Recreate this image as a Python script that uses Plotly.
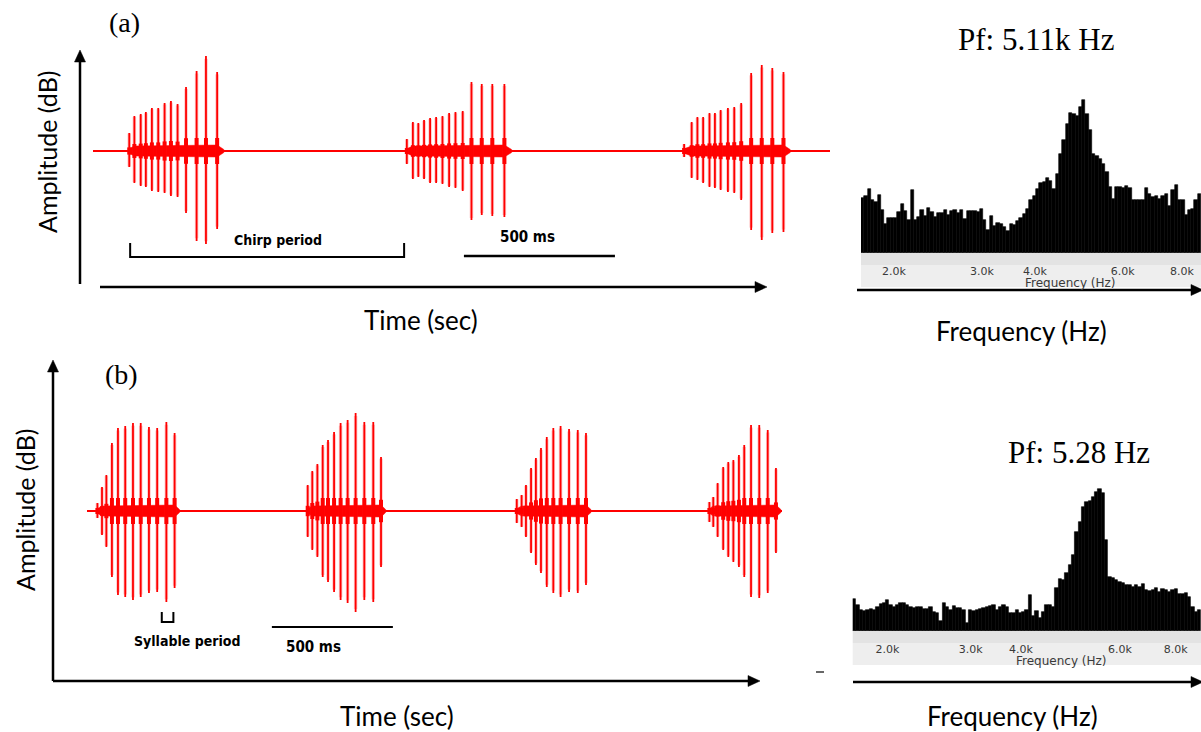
import plotly.graph_objects as go
import numpy as np

W, H = 1201, 732

# ---------------- DATA ----------------
# Panel (a) chirp pulses: time (ms), positive / negative peak amplitude (relative units)
A_T = [[120, 137, 158, 175, 195, 216, 237, 258, 280, 308, 343, 374, 411],
       [1039, 1059, 1077, 1096, 1116, 1136, 1157, 1179, 1200, 1224, 1253, 1287, 1322, 1362],
       [1957, 1982, 2001, 2020, 2041, 2059, 2078, 2102, 2123, 2146, 2179, 2214, 2249, 2286]]
A_UP = [[18, 35, 37, 39, 43, 43, 48, 50, 47, 64, 80, 95, 79],
        [12, 29, 28, 31, 33, 34, 35, 38, 39, 40, 69, 67, 67, 67],
        [7, 29, 34, 34, 38, 38, 41, 43, 44, 48, 78, 86, 83, 79]]
A_DN = [[16, 32, 35, 36, 40, 41, 42, 45, 46, 62, 90, 93, 78],
        [13, 28, 26, 28, 32, 32, 33, 36, 37, 40, 69, 64, 65, 66],
        [6, 27, 29, 32, 36, 37, 39, 41, 42, 49, 79, 89, 82, 81]]
A_TIME_SPAN = [0, 2440]
A_CHIRP_PERIOD = [123, 1030]
A_SCALE_BAR = [1228, 1728]

# Panel (b) chirp pulses
B_T = [[43, 62, 80, 103, 128, 158, 190, 222, 256, 290, 328, 362],
       [912, 931, 952, 974, 996, 1021, 1048, 1077, 1110, 1146, 1183, 1215],
       [1776, 1796, 1814, 1835, 1855, 1876, 1900, 1927, 1957, 1992, 2028, 2062],
       [2572, 2588, 2606, 2629, 2650, 2671, 2694, 2716, 2744, 2778, 2813, 2847]]
B_UP = [[8, 24, 36, 68, 83, 85, 88, 88, 84, 83, 89, 78],
        [26, 40, 47, 66, 71, 79, 88, 91, 98, 89, 89, 54],
        [12, 16, 26, 43, 53, 63, 74, 83, 85, 82, 81, 78],
        [9, 14, 28, 44, 49, 51, 56, 66, 86, 86, 81, 43]]
B_DN = [[7, 24, 36, 66, 84, 86, 89, 86, 82, 81, 91, 77],
        [26, 39, 46, 66, 71, 81, 89, 92, 101, 89, 91, 56],
        [12, 16, 26, 42, 54, 62, 76, 82, 86, 81, 82, 74],
        [11, 16, 26, 39, 46, 51, 56, 66, 86, 87, 82, 42]]
B_TIME_SPAN = [0, 2872]
B_SYLLABLE_PERIOD = [309, 357]
B_SCALE_BAR = [764, 1264]

# Power spectra (relative power per frequency bin)
SPEC_A = [55, 57, 64, 53, 51, 58, 43, 29, 35, 35, 35, 41, 49, 42, 33, 63, 33, 36, 43, 37,
          45, 41, 36, 40, 40, 43, 38, 42, 43, 40, 43, 34, 42, 42, 42, 41, 44, 33, 23, 37,
          27, 30, 29, 26, 22, 29, 28, 32, 35, 39, 44,
          53, 57, 64, 70, 71, 75, 72, 64, 79, 99, 113, 129, 140, 139, 137, 146, 153, 139, 123, 99,
          97, 94, 89, 81, 66, 54, 66, 66, 65, 67, 65, 53, 53, 53, 53, 65, 59, 56, 57, 54,
          57, 59, 47, 63, 68, 53, 53, 38, 43, 44, 53, 59]
SPEC_B = [32, 26, 21, 20, 21, 22, 21, 24, 27, 28, 31, 26, 24, 26, 28, 28, 26, 24, 23, 24,
          24, 22, 22, 24, 19, 18, 10, 28, 24, 21, 25, 23, 23, 21, 8, 21, 20, 21, 22, 23,
          24, 25, 26, 21, 24, 26, 24, 18, 18, 21, 18, 19, 21, 36, 15, 20, 13, 19, 26, 26,
          24, 43, 52, 51, 58, 66, 76, 99, 109, 124, 129, 130, 134, 139, 142, 138, 91, 54, 53, 51,
          49, 48, 46, 46, 44, 46, 44, 47, 41, 40, 41, 43, 39, 42, 41, 39, 41, 42, 37, 37,
          38, 34, 24, 19, 21]
FREQ_TICK_TEXT = ["2.0k", "3.0k", "4.0k", "6.0k", "8.0k"]
SPEC_A_TICK_BIN = [9.5, 36.1, 52.2, 78.8, 96.7]
SPEC_B_TICK_BIN = [10.0, 35.1, 50.2, 80.1, 96.9]

# ---------------- HELPERS ----------------
def fx(px):
    return px / W

def fy(py):
    return 1 - py / H

RED = "#ff0000"
SANS = "Lato, Open Sans, sans-serif"
SERIF = "Liberation Serif, Times New Roman, serif"
NARROW = "Liberation Sans Narrow, DejaVu Sans Condensed, Arial Narrow, sans-serif"
SMALL = "DejaVu Sans, Verdana, sans-serif"

fig = go.Figure()


def add_wave(ts, ups, dns, span, xa, ya):
    # baseline
    fig.add_trace(go.Scatter(x=span, y=[0, 0], mode="lines", line=dict(color=RED, width=2),
                             xaxis=xa, yaxis=ya, hoverinfo="skip", showlegend=False))
    hx, hy, sx, sy, cx, cy = [], [], [], [], [], []
    for t, u, d in zip(ts, ups, dns):
        # envelope band around baseline for the burst
        t0, t1 = t[0], t[-1]
        tail = (t[-1] - t[-2]) * 0.6
        bx = [t0 - 3, t[1], t1, t1 + tail, t1 + tail, t1, t[1], t0 - 3]
        by = [-2, -5, -6, -1.5, 1.5, 6, 5, 2]
        fig.add_trace(go.Scatter(x=bx, y=by, fill="toself", mode="lines",
                                 line=dict(color=RED, width=0.5), fillcolor=RED,
                                 xaxis=xa, yaxis=ya, hoverinfo="skip", showlegend=False))
        for ti, ui, di in zip(t, u, d):
            hx += [ti, ti, None]
            hy += [-di * 0.97, ui * 0.97, None]
            sx += [ti, ti, None]
            sy += [-di, ui, None]
            c = float(np.clip(0.2 * max(ui, di), 3, 13))
            cx += [ti, ti, None]
            cy += [-c, c, None]
    fig.add_trace(go.Scatter(x=hx, y=hy, mode="lines", line=dict(color="rgba(255,90,90,0.35)", width=3.5),
                             xaxis=xa, yaxis=ya, hoverinfo="skip", showlegend=False))
    fig.add_trace(go.Scatter(x=sx, y=sy, mode="lines", line=dict(color=RED, width=1.8),
                             xaxis=xa, yaxis=ya, hoverinfo="skip", showlegend=False))
    fig.add_trace(go.Scatter(x=cx, y=cy, mode="lines", line=dict(color=RED, width=4),
                             xaxis=xa, yaxis=ya, hoverinfo="skip", showlegend=False))


add_wave(A_T, A_UP, A_DN, A_TIME_SPAN, "x", "y")
add_wave(B_T, B_UP, B_DN, B_TIME_SPAN, "x3", "y3")

fig.add_trace(go.Bar(x=list(range(len(SPEC_A))), y=SPEC_A, width=1,
                     marker=dict(color="black", line=dict(color="black", width=0.6)),
                     xaxis="x2", yaxis="y2", hoverinfo="skip", showlegend=False))
fig.add_trace(go.Bar(x=list(range(len(SPEC_B))), y=SPEC_B, width=1,
                     marker=dict(color="black", line=dict(color="black", width=0.6)),
                     xaxis="x4", yaxis="y4", hoverinfo="skip", showlegend=False))

hidden = dict(visible=False, fixedrange=True)
spec_x_common = dict(showgrid=False, zeroline=False, showline=False, ticks="outside", ticklen=0,
                     ticklabelstandoff=8, tickfont=dict(family=SMALL, size=11, color="#3a3a3a"),
                     fixedrange=True)

fig.update_layout(
    width=W, height=H, margin=dict(l=0, r=0, t=0, b=0),
    paper_bgcolor="white", plot_bgcolor="rgba(0,0,0,0)",
    bargap=0, showlegend=False,
    xaxis=dict(domain=[fx(93), fx(830)], range=A_TIME_SPAN, **hidden),
    yaxis=dict(domain=[fy(261), fy(51)], range=[-110, 100], **hidden),
    xaxis3=dict(domain=[fx(87), fx(782)], range=B_TIME_SPAN, **hidden),
    yaxis3=dict(domain=[fy(661), fy(411)], range=[-150, 100], **hidden),
    xaxis2=dict(domain=[fx(861), 1.0], range=[-0.5, len(SPEC_A) - 0.5], anchor="y2",
                tickvals=SPEC_A_TICK_BIN, ticktext=FREQ_TICK_TEXT, **spec_x_common),
    yaxis2=dict(domain=[fy(253), fy(95)], range=[0, 158], **hidden),
    xaxis4=dict(domain=[fx(852.7), 1.0], range=[-0.5, len(SPEC_B) - 0.5], anchor="y4",
                tickvals=SPEC_B_TICK_BIN, ticktext=FREQ_TICK_TEXT, **spec_x_common),
    yaxis4=dict(domain=[fy(631), fy(485)], range=[0, 146], **hidden),
)

shapes = []


def arrow(x0, y0, x1, y1, w=2.5, head=12, half=5.5):
    # line from (x0,y0) to tip (x1,y1) in pixels
    dx, dy = x1 - x0, y1 - y0
    L = (dx * dx + dy * dy) ** 0.5
    ux, uy = dx / L, dy / L
    bx, by = x1 - ux * head, y1 - uy * head
    shapes.append(dict(type="line", xref="paper", yref="paper", x0=fx(x0), y0=fy(y0),
                       x1=fx(bx + ux * 2), y1=fy(by + uy * 2), line=dict(color="black", width=w)))
    px_, py_ = -uy, ux
    p1 = (bx + px_ * half, by + py_ * half)
    p2 = (bx - px_ * half, by - py_ * half)
    path = "M {} {} L {} {} L {} {} Z".format(fx(x1), fy(y1), fx(p1[0]), fy(p1[1]), fx(p2[0]), fy(p2[1]))
    shapes.append(dict(type="path", xref="paper", yref="paper", path=path,
                       fillcolor="black", line=dict(color="black", width=0.5)))


arrow(80, 284, 80, 50)
arrow(100, 287, 767, 287)
arrow(857, 290, 1203, 290)
arrow(53, 681, 53, 360)
arrow(53, 681, 760, 681)
arrow(853, 682, 1203, 682)

# spectrum axis strips
for x0, ys in ((861, (253, 265, 287)), (852.7, (631, 643, 665))):
    shapes.append(dict(type="rect", xref="paper", yref="paper", x0=fx(x0), x1=1.0,
                       y0=fy(ys[1]), y1=fy(ys[0]), fillcolor="#e3e3e3", line=dict(width=0), layer="below"))
    shapes.append(dict(type="rect", xref="paper", yref="paper", x0=fx(x0), x1=1.0,
                       y0=fy(ys[2]), y1=fy(ys[1]), fillcolor="#eeeeee", line=dict(width=0), layer="below"))

# small dash
shapes.append(dict(type="line", xref="paper", yref="paper", x0=fx(816), x1=fx(824), y0=fy(672), y1=fy(672),
                   line=dict(color="black", width=1.2)))

# chirp period bracket & scale bars (data coordinates)
c0, c1 = A_CHIRP_PERIOD
shapes.append(dict(type="path", xref="x", yref="y",
                   path="M {} -92 L {} -106 L {} -106 L {} -92".format(c0, c0, c1, c1),
                   line=dict(color="black", width=2)))
shapes.append(dict(type="line", xref="x", yref="y", x0=A_SCALE_BAR[0], x1=A_SCALE_BAR[1], y0=-105, y1=-105,
                   line=dict(color="black", width=2.5)))
s0, s1 = B_SYLLABLE_PERIOD
shapes.append(dict(type="path", xref="x3", yref="y3",
                   path="M {} -101 L {} -111 L {} -111 L {} -101".format(s0, s0, s1, s1),
                   line=dict(color="black", width=2)))
shapes.append(dict(type="line", xref="x3", yref="y3", x0=B_SCALE_BAR[0], x1=B_SCALE_BAR[1], y0=-116, y1=-116,
                   line=dict(color="black", width=2)))
fig.update_layout(shapes=shapes)

ann = []


def text(x, y, s, font, size, color="black", angle=0, bold=False, ref=None):
    if bold:
        s = "<b>" + s + "</b>"
    d = dict(text=s, showarrow=False, xanchor="center", yanchor="middle", textangle=angle,
             font=dict(family=font, size=size, color=color))
    if ref is None:
        d.update(xref="paper", yref="paper", x=fx(x), y=fy(y))
    else:
        d.update(xref=ref[0], yref=ref[1], x=x, y=y)
    ann.append(d)


text(124, 22, "(a)", SERIF, 28)
text(121, 374, "(b)", SERIF, 28)
text(1036, 40, "Pf: 5.11k Hz", SERIF, 31)
text(1079, 452, "Pf: 5.28 Hz", SERIF, 31)
text(47, 152, "Amplitude (dB)", SANS, 25, angle=-90)
text(25, 510, "Amplitude (dB)", SANS, 25, angle=-90)
text(421, 320, "Time (sec)", SANS, 26)
text(397, 716, "Time (sec)", SANS, 26)
text(1021, 331, "Frequency (Hz)", SANS, 26)
text(1012, 716, "Frequency (Hz)", SANS, 26)
text(1070, 283, "Frequency (Hz)", SMALL, 12, color="#3a3a3a")
text(1061, 661, "Frequency (Hz)", SMALL, 12, color="#3a3a3a")
text(sum(A_CHIRP_PERIOD) / 2 + 36, -89, "Chirp period", NARROW, 14, bold=True, ref=("x", "y"))
text(sum(A_SCALE_BAR) / 2 - 41, -86, "500 ms", NARROW, 15, bold=True, ref=("x", "y"))
text(413, -130, "Syllable period", NARROW, 14, bold=True, ref=("x3", "y3"))
text(sum(B_SCALE_BAR) / 2 - 76, -136, "500 ms", NARROW, 15, bold=True, ref=("x3", "y3"))
fig.update_layout(annotations=ann)

fig.write_html("out.html")
